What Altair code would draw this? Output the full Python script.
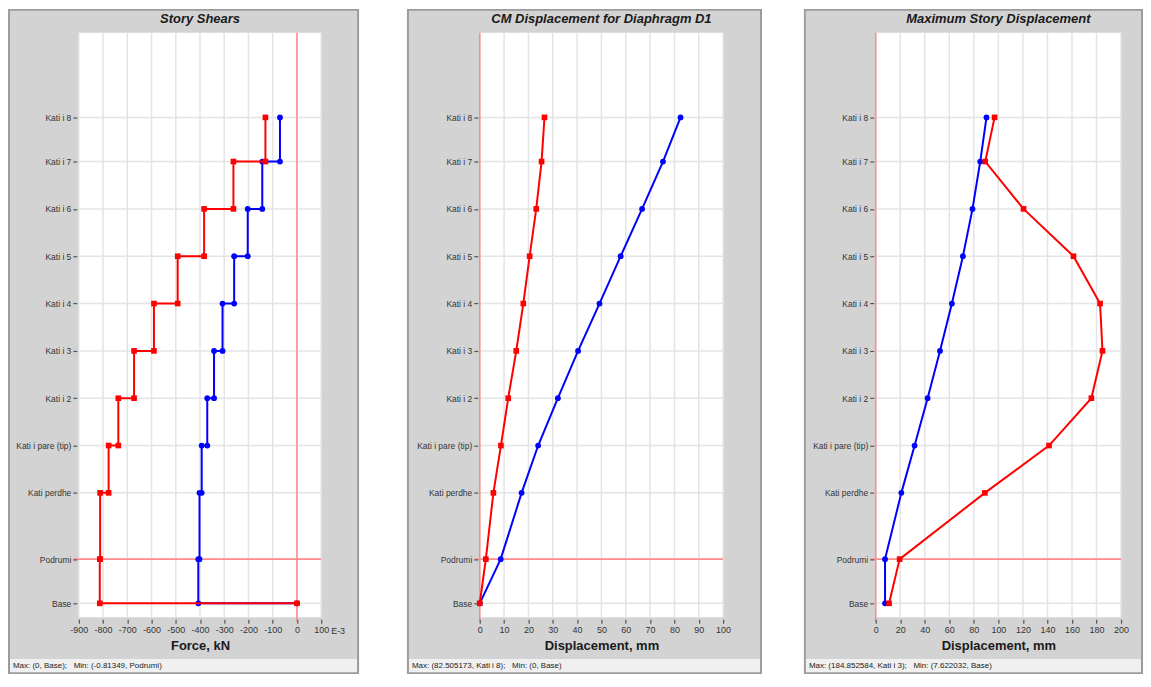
import altair as alt
import pandas as pd

FONT = "Liberation Sans"
GRAY = "#d3d3d3"
STATUS = "#f0f0f0"
BORDER = "#9c9c9c"
GRID = "#e4e4e4"
REF = "#ff8c8c"

# ---- data -------------------------------------------------------------
stories = ["Base", "Podrumi", "Kati perdhe", "Kati i pare (tip)", "Kati i 2", "Kati i 3",
           "Kati i 4", "Kati i 5", "Kati i 6", "Kati i 7", "Kati i 8"]
elevations = [0.0, 2.8, 7.0, 10.0, 13.0, 16.0, 19.0, 22.0, 25.0, 28.0, 30.8]

# Story shears: stepped path from top to base
shear_path = ["Kati i 8", "Kati i 7", "Kati i 7", "Kati i 6", "Kati i 6", "Kati i 5", "Kati i 5",
              "Kati i 4", "Kati i 4", "Kati i 3", "Kati i 3", "Kati i 2", "Kati i 2",
              "Kati i pare (tip)", "Kati i pare (tip)", "Kati perdhe", "Kati perdhe",
              "Podrumi", "Podrumi", "Base", "Base"]
shear_red = [-130, -130, -262, -262, -383, -383, -492, -492, -590, -590, -672, -672, -737,
             -737, -777, -777, -812, -812, -813.49, -813.49, 0]
shear_blue = [-70, -70, -143, -143, -203, -203, -259, -259, -307, -307, -342, -342, -370,
              -370, -393, -393, -402, -402, -407, -407, 0]
shear_ticks = [-900, -800, -700, -600, -500, -400, -300, -200, -100, 0, 100]

# CM displacement (Base -> Kati i 8)
cm_red = [0, 2.5, 5.6, 8.7, 11.7, 15.0, 17.9, 20.5, 23.2, 25.4, 26.6]
cm_blue = [0, 8.6, 17.2, 24.0, 32.1, 40.4, 49.2, 57.9, 66.7, 75.3, 82.505]
cm_ticks = [0, 10, 20, 30, 40, 50, 60, 70, 80, 90, 100]

# Maximum story displacement (Base -> Kati i 8)
max_red = [10.9, 19.5, 89.0, 141.3, 175.8, 184.85, 182.9, 161.2, 120.5, 89.3, 96.9]
max_blue = [7.622, 7.6, 20.9, 31.7, 42.3, 52.4, 62.1, 71.1, 78.9, 85.2, 90.3]
max_ticks = [0, 20, 40, 60, 80, 100, 120, 140, 160, 180, 200]

titles = ["Story Shears", "CM Displacement for Diaphragm D1", "Maximum Story Displacement"]
xtitles = ["Force, kN", "Displacement, mm", "Displacement, mm"]
SP = "\u00a0\u00a0\u00a0"
statuses = ["Max: (0, Base);" + SP + "Min: (-0.81349, Podrumi)",
            "Max: (82.505173, Kati i 8);" + SP + "Min: (0, Base)",
            "Max: (184.852584, Kati i 3);" + SP + "Min: (7.622032, Base)"]

elev_of = dict(zip(stories, elevations))
H = 586
TOP = 23          # frame above plot
GRAY_BOTTOM = 42  # gray area below plot
FRAME_BOTTOM = 56 # frame bottom below plot
YDOM = [-0.885, 36.16]

label_expr = " : ".join(
    [f"abs(datum.value - {e}) < 0.01 ? '{s}'" for s, e in zip(stories, elevations)]) + " : ''"
xlabel_expr = "datum.value < 0 ? '-' + format(-datum.value, 'd') : format(datum.value, 'd')"


def panel(W, xdom, xticks, red_x, red_st, blue_x, blue_st, title, xtitle, status,
          L, R, extra_text=None):
    xs = alt.Scale(domain=xdom, nice=False, zero=False)
    ys = alt.Scale(domain=YDOM, nice=False, zero=False)
    one = pd.DataFrame({"k": [0]})

    xaxis = alt.Axis(values=xticks, tickCount=len(xticks), grid=False, domain=False, ticks=True,
                     tickColor="#555", tickSize=4, tickWidth=1.2, offset=2, labelFontSize=9,
                     labelColor="#333", labelFont=FONT, labelPadding=2, labelOverlap=False,
                     labelFlush=False, labelExpr=xlabel_expr, title=xtitle, titleFont=FONT,
                     titleFontSize=13, titleFontWeight="bold", titleColor="#1a1a1a",
                     titlePadding=5, zindex=1)
    yaxis = alt.Axis(values=elevations, grid=False, domain=False, ticks=True, tickColor="#555",
                     tickSize=4, tickWidth=1.2, offset=2, labelFontSize=8.5, labelColor="#333",
                     labelFont=FONT, labelPadding=2, labelOverlap=False, labelFlush=False,
                     labelExpr=label_expr, title=None, zindex=1)

    def X(f):
        return alt.X(f, scale=xs, axis=xaxis)

    def Y(f):
        return alt.Y(f, scale=ys, axis=yaxis)

    bg = alt.Chart(one).mark_rect(fill=GRAY).encode(
        x=alt.value(-L), x2=alt.value(W + R), y=alt.value(-TOP), y2=alt.value(H + GRAY_BOTTOM))
    sbar = alt.Chart(one).mark_rect(fill=STATUS).encode(
        x=alt.value(-L), x2=alt.value(W + R), y=alt.value(H + GRAY_BOTTOM), y2=alt.value(H + FRAME_BOTTOM))
    border = alt.Chart(one).mark_rect(fillOpacity=0, stroke=BORDER, strokeWidth=2).encode(
        x=alt.value(-L), x2=alt.value(W + R), y=alt.value(-TOP), y2=alt.value(H + FRAME_BOTTOM))
    white = alt.Chart(one).mark_rect(fill="white").encode(
        x=alt.value(0), x2=alt.value(W), y=alt.value(0), y2=alt.value(H))

    vgrid = alt.Chart(pd.DataFrame({"x": xticks})).mark_rule(color=GRID, strokeWidth=1.5).encode(
        x=X("x:Q"), y=alt.value(0), y2=alt.value(H))
    hgrid = alt.Chart(pd.DataFrame({"e": elevations})).mark_rule(color=GRID, strokeWidth=1.5).encode(
        y=Y("e:Q"), x=alt.value(0), x2=alt.value(W))

    vref = alt.Chart(pd.DataFrame({"x": [0]})).mark_rule(color=REF, strokeWidth=1.6).encode(
        x=X("x:Q"), y=alt.value(0), y2=alt.value(H + 4))
    href = alt.Chart(pd.DataFrame({"e": [elev_of["Podrumi"]]})).mark_rule(color=REF, strokeWidth=1.6).encode(
        y=Y("e:Q"), x=alt.value(-5), x2=alt.value(W))

    def series_df(xv, st):
        return pd.DataFrame({"x": xv, "e": [elev_of[s] for s in st], "o": list(range(len(xv)))})

    bdf = series_df(blue_x, blue_st)
    rdf = series_df(red_x, red_st)

    bline = alt.Chart(bdf).mark_line(color="#0000ff", strokeWidth=2).encode(
        x=X("x:Q"), y=Y("e:Q"), order="o:Q")
    bpts = alt.Chart(bdf).mark_point(filled=True, shape="circle", size=34, color="#0000ff", opacity=1).encode(
        x=X("x:Q"), y=Y("e:Q"))
    rline = alt.Chart(rdf).mark_line(color="#ff0000", strokeWidth=2).encode(
        x=X("x:Q"), y=Y("e:Q"), order="o:Q")
    rpts = alt.Chart(rdf).mark_point(filled=True, shape="square", size=32, color="#ff0000", opacity=1).encode(
        x=X("x:Q"), y=Y("e:Q"))

    ttl = alt.Chart(pd.DataFrame({"t": [title]})).mark_text(
        font=FONT, fontSize=13, fontWeight="bold", fontStyle="italic", color="#1a1a1a",
        align="center", baseline="middle").encode(
        x=alt.value(W / 2), y=alt.value(-14), text="t:N")
    stat = alt.Chart(pd.DataFrame({"t": [status]})).mark_text(
        font=FONT, fontSize=8, color="#222", align="left", baseline="middle").encode(
        x=alt.value(-L + 4), y=alt.value(H + (GRAY_BOTTOM + FRAME_BOTTOM) / 2), text="t:N")

    layers = [bg, sbar, white, vgrid, hgrid, vref, href, bline, bpts, rline, rpts, ttl, stat, border]
    if extra_text:
        layers.append(alt.Chart(pd.DataFrame({"t": [extra_text]})).mark_text(
            font=FONT, fontSize=9, color="#333", align="left", baseline="middle").encode(
            x=alt.value(W + 10), y=alt.value(H + 14), text="t:N"))
    return alt.layer(*layers).properties(width=W, height=H)


p1 = panel(243, [-900, 100], shear_ticks, shear_red, shear_path, shear_blue, shear_path,
           titles[0], xtitles[0], statuses[0], 70, 37, extra_text="E-3")
p2 = panel(244, [0, 100], cm_ticks, cm_red, stories, cm_blue, stories,
           titles[1], xtitles[1], statuses[1], 72, 38)
p3 = panel(246, [0, 200], max_ticks, max_red, stories, max_blue, stories,
           titles[2], xtitles[2], statuses[2], 71, 21)

chart = alt.hconcat(alt.hconcat(p1, p2, spacing=48), p3, spacing=42).properties(
    padding=0, background="white"
).configure(font=FONT).configure_view(stroke=None)

chart.save("out.html", embed_options={"renderer": "svg", "actions": False})
